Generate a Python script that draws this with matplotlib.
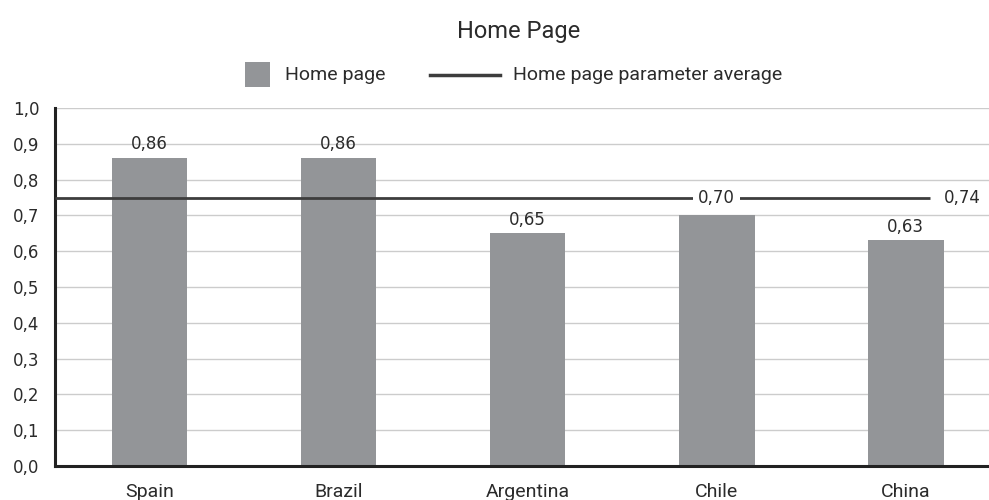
import matplotlib.pyplot as plt
from matplotlib.patches import Rectangle
from matplotlib.lines import Line2D

plt.rcParams['font.family'] = ['Roboto', 'DejaVu Sans']

countries = ['Spain', 'Brazil', 'Argentina', 'Chile', 'China']
home_page = [0.86, 0.86, 0.65, 0.70, 0.63]
avg_value = 0.748
avg_label = '0,74'
yticks = [0.0, 0.1, 0.2, 0.3, 0.4, 0.5, 0.6, 0.7, 0.8, 0.9, 1.0]

bar_color = '#939598'
line_color = '#3d3d3d'
text_color = '#2b2b2b'
num_font = 'DejaVu Sans'

fig = plt.figure(figsize=(9.89, 5), dpi=100)
ax = fig.add_axes([0.0556, 0.068, 0.9444, 0.716])

x = list(range(len(countries)))
ax.bar(x, home_page, width=0.4, color=bar_color, zorder=2)
# average line stops short of its label at the right
ax.plot([-0.5, 4.13], [avg_value, avg_value], color=line_color, lw=2, zorder=3,
        solid_capstyle='butt')

for xi, v in zip(x, home_page):
    lab = f'{v:.2f}'.replace('.', ',')
    if abs(v - avg_value) < 0.06:
        ax.text(xi, avg_value, lab, ha='center', va='center', fontsize=12,
                family=num_font, color=text_color, zorder=4,
                bbox=dict(facecolor='white', edgecolor='none', pad=3.5))
    else:
        ax.text(xi, v + 0.013, lab, ha='center', va='bottom', fontsize=12,
                family=num_font, color=text_color, zorder=4)

ax.text(4.30, avg_value, avg_label, ha='center', va='center', fontsize=12,
        family=num_font, color=text_color, zorder=4)

ax.set_xlim(-0.5, 4.44)
ax.set_ylim(0, 1.0)
ax.set_yticks(yticks)
ax.set_yticklabels([f'{t:.1f}'.replace('.', ',') for t in yticks], fontsize=12,
                   family=num_font, color=text_color)
ax.set_xticks(x)
ax.set_xticklabels(countries, fontsize=14, color=text_color)
ax.tick_params(length=0)
ax.tick_params(axis='x', pad=12)
ax.tick_params(axis='y', pad=11)
ax.yaxis.grid(True, color='#cccccc', lw=1, zorder=0)
ax.set_axisbelow(True)
for s in ['top', 'right']:
    ax.spines[s].set_visible(False)
for s in ['left', 'bottom']:
    ax.spines[s].set_color('#222222')
    ax.spines[s].set_linewidth(2.2)

fig.text(0.524, 0.937, 'Home Page', ha='center', va='center', fontsize=17, color=text_color)

# legend drawn by hand so it sits where the reference has it
fig.patches.append(Rectangle((0.2477, 0.826), 0.0253, 0.05, transform=fig.transFigure,
                             facecolor=bar_color, edgecolor='none'))
fig.text(0.288, 0.85, 'Home page', ha='left', va='center', fontsize=14, color=text_color)
fig.lines.append(Line2D([0.435, 0.506], [0.85, 0.85], transform=fig.transFigure,
                        color=line_color, lw=2.5))
fig.text(0.519, 0.85, 'Home page parameter average', ha='left', va='center',
         fontsize=14, color=text_color)

plt.savefig('out.png')
